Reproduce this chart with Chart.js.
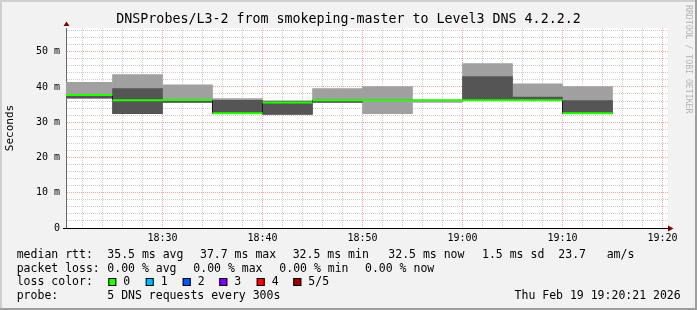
<!DOCTYPE html>
<html><head><meta charset="utf-8">
<script src="https://cdn.jsdelivr.net/npm/chart.js@4.4.1/dist/chart.umd.min.js"></script>
<style>html,body{margin:0;padding:0;background:#f2f2f2;}canvas{display:block;}</style>
</head><body>
<canvas id="c" width="697" height="310"></canvas>
<script>
// ---- data ----
const titleText = 'DNSProbes/L3-2 from smokeping-master to Level3 DNS 4.2.2.2';
const slots    = ['18:20','18:25','18:30','18:35','18:40','18:45','18:50','18:55','19:00','19:05','19:10'];
const slotMinutes = 5;
const pingLow  = [36.8, 32.4, 35.6, 32.5, 32.2, 35.6, 32.4, 35.6, 36.2, 36.2, 32.5];
const pingLow2 = [36.8, 32.4, 35.6, 32.5, 32.2, 35.6, 36.2, 36.2, 36.2, 36.2, 32.5];
const medianRtt= [37.7, 36.2, 36.3, 32.5, 35.6, 36.2, 36.2, 36.2, 36.2, 36.2, 32.5];
const pingHigh2= [37.7, 39.5, 36.3, 36.2, 36.0, 36.2, 36.2, 36.2, 42.9, 37.1, 36.1];
const pingHigh = [41.3, 43.5, 40.6, 36.7, 36.0, 39.5, 40.1, 36.2, 46.6, 40.9, 40.1];
const rangeStart = '18:20:21', rangeEnd = '19:20:33';
const xTickLabels = ['18:30','18:40','18:50','19:00','19:10','19:20'];
const yTickValues = [0, 10, 20, 30, 40, 50];
const yTickLabels = ['0', '10 m', '20 m', '30 m', '40 m', '50 m'];
const yMax = 56.7;
const medianStats = ['35.5 ms avg', '37.7 ms max', '32.5 ms min', '32.5 ms now', '1.5 ms sd', '23.7', 'am/s'];
const lossStats   = ['0.00 % avg', '0.00 % max', '0.00 % min', '0.00 % now'];
const lossLabels  = ['0', '1', '2', '3', '4', '5/5'];
const lossColors  = ['#26ff00', '#00b8ff', '#0059ff', '#7e00ff', '#ff0000', '#a10000'];
const probeText = '5 DNS requests every 300s';
const stampText = 'Thu Feb 19 19:20:21 2026';

// ---- helpers ----
function toMin(s){ const p = s.split(':').map(Number); return (p[0]-18)*60 + p[1] + (p[2]||0)/60; }
const starts = slots.map(toMin);
const centers = starts.map(s => s + slotMinutes/2);
const lightBars = centers.map((x,i) => ({x, y:[pingLow[i], pingHigh[i]]}));
const darkBars  = centers.map((x,i) => ({x, y:[pingLow2[i], pingHigh2[i]]}));
const greenSegs = [];
starts.forEach((s,i) => { greenSegs.push({x:s, y:medianRtt[i]}, {x:s+slotMinutes, y:medianRtt[i]}, {x:s+slotMinutes, y:null}); });
const stepLine = starts.map((s,i) => ({x:s, y:medianRtt[i]}));
stepLine.push({x: starts[starts.length-1] + slotMinutes, y: medianRtt[medianRtt.length-1]});
const xLabelMap = {}; xTickLabels.forEach(l => xLabelMap[Math.round(toMin(l))] = l);
const yLabelMap = {}; yTickValues.forEach((v,i) => yLabelMap[v] = yTickLabels[i]);

const MONO = '"DejaVu Sans Mono", "Liberation Mono", monospace';
const slotWidth = ctx => { const x = ctx.chart.scales.x; return x.getPixelForValue(slotMinutes) - x.getPixelForValue(0); };

const deco = {
  id: 'deco',
  beforeDraw(chart){
    const {ctx, chartArea:a} = chart;
    ctx.save();
    ctx.fillStyle = '#f2f2f2'; ctx.fillRect(0,0,697,310);
    ctx.fillStyle = '#ffffff'; ctx.fillRect(a.left, a.top, a.right-a.left, a.bottom-a.top);
    ctx.restore();
  },
  afterDraw(chart){
    const {ctx, chartArea:a} = chart;
    ctx.save();
    // frame
    ctx.fillStyle = '#cfcfcf'; ctx.fillRect(0,0,697,2); ctx.fillRect(0,0,2,310);
    ctx.fillStyle = '#9e9e9e'; ctx.fillRect(695,0,2,310); ctx.fillRect(0,308,697,2);
    // axis extension + arrows
    ctx.strokeStyle = '#000'; ctx.lineWidth = 1;
    ctx.beginPath(); ctx.moveTo(a.left-3, Math.round(a.bottom)+0.5); ctx.lineTo(a.right+1, Math.round(a.bottom)+0.5); ctx.stroke();
    ctx.fillStyle = '#800000';
    const ax = Math.round(a.left)+0.5, ay = a.top;
    ctx.beginPath(); ctx.moveTo(ax, ay-6.5); ctx.lineTo(ax-3, ay-2); ctx.lineTo(ax+3, ay-2); ctx.closePath(); ctx.fill();
    const bx = a.right, by = Math.round(a.bottom)+0.5;
    ctx.beginPath(); ctx.moveTo(bx+5.5, by); ctx.lineTo(bx, by-3); ctx.lineTo(bx, by+3); ctx.closePath(); ctx.fill();
    // title
    ctx.fillStyle = '#000';
    ctx.font = '13.3px ' + MONO; ctx.textAlign = 'center'; ctx.textBaseline = 'middle';
    ctx.fillText(titleText, 348.5, 20);
    // legend
    ctx.font = '11.5px ' + MONO; ctx.textAlign = 'left';
    const row = [254.7, 268.7, 282.2, 296.3];
    ctx.fillText('median rtt:', 16.7, row[0]);
    const mx = [107.3, 200, 292.7, 388.3, 482, 558.3, 606.7];
    medianStats.forEach((t,i) => ctx.fillText(t, mx[i], row[0]));
    ctx.fillText('packet loss:', 16.7, row[1]);
    const lx = [107.3, 193.3, 279.3, 365];
    lossStats.forEach((t,i) => ctx.fillText(t, lx[i], row[1]));
    ctx.fillText('loss color:', 16.7, row[2]);
    const sx = [108.3, 145.7, 182.7, 219.3, 256.7, 293.3];
    lossLabels.forEach((t,i) => {
      ctx.fillStyle = lossColors[i]; ctx.fillRect(sx[i], 278, 8, 8);
      ctx.strokeStyle = '#000'; ctx.strokeRect(sx[i]+0.5, 278.5, 7, 7);
      ctx.fillStyle = '#000'; ctx.fillText(t, sx[i]+15, row[2]);
    });
    ctx.fillText('probe:', 16.7, row[3]);
    ctx.fillText(probeText, 107.3, row[3]);
    ctx.textAlign = 'right'; ctx.fillText(stampText, 680.7, row[3]);
    // watermark
    ctx.save();
    ctx.translate(688, 5); ctx.rotate(Math.PI/2);
    ctx.font = '8.2px ' + MONO; ctx.fillStyle = '#b4b4b4'; ctx.textAlign = 'left'; ctx.textBaseline = 'middle';
    ctx.fillText('RRDTOOL / TOBI OETIKER', 0, 0);
    ctx.restore();
    ctx.restore();
  }
};

const minorGrid = 'rgba(143,143,143,0.45)';
const majorGrid = 'rgba(230,80,80,0.5)';

new Chart(document.getElementById('c'), {
  type: 'bar',
  data: {
    datasets: [
      { type:'line', label:'median', data: greenSegs, borderColor:'#26ff00', borderWidth:2, pointRadius:0, spanGaps:false, order:1 },
      { type:'line', label:'step', data: stepLine, borderColor:'#1a1a1a', borderWidth:1, pointRadius:0, stepped:true, order:2 },
      { label:'dark', data: darkBars, backgroundColor:'#555555', borderWidth:0, grouped:false, barThickness: slotWidth, order:3 },
      { label:'light', data: lightBars, backgroundColor:'#a0a0a0', borderWidth:0, grouped:false, barThickness: slotWidth, order:4 }
    ]
  },
  options: {
    responsive: false, animation: false, devicePixelRatio: 1,
    layout: { padding: { left: 0, top: 28, right: 29, bottom: 0 } },
    plugins: { legend: { display:false }, tooltip: { enabled:false }, title: { display:false } },
    scales: {
      x: {
        type: 'linear', offset: false, min: toMin(rangeStart), max: toMin(rangeEnd), z: 1,
        afterFit(s){ s.height = 82; },
        afterBuildTicks(s){ const t=[]; for (let v=22; v<=80; v+=2) t.push({value:v}); s.ticks = t; },
        ticks: { autoSkip:false, maxRotation:0, padding:4, color:'#000', font:{ family: MONO, size:10 },
                 callback: v => xLabelMap[v] || '' },
        grid: { offset:false, drawTicks:false, lineWidth:1, color: c => (c.tick && c.tick.value % 10 === 0) ? majorGrid : minorGrid },
        border: { display:true, color:'#000', width:1, dash:[1,1] }
      },
      y: {
        min: 0, max: yMax, z: 1,
        afterFit(s){ s.width = 66; },
        afterBuildTicks(s){ const t=[]; for (let v=0; v<=56; v+=2) t.push({value:v}); s.ticks = t; },
        ticks: { autoSkip:false, padding:6, color:'#000', font:{ family: MONO, size:10 },
                 callback: v => (v in yLabelMap) ? yLabelMap[v] : '' },
        grid: { offset:false, drawTicks:false, lineWidth:1, color: c => (c.tick && c.tick.value % 10 === 0) ? majorGrid : minorGrid },
        border: { display:true, color:'#6a6a6a', width:1, dash:[1,1] },
        title: { display:true, text:'Seconds', color:'#000', font:{ family: MONO, size:11 }, padding:{ top:4, bottom:4 } }
      }
    }
  },
  plugins: [deco]
});
</script>
</body></html>
